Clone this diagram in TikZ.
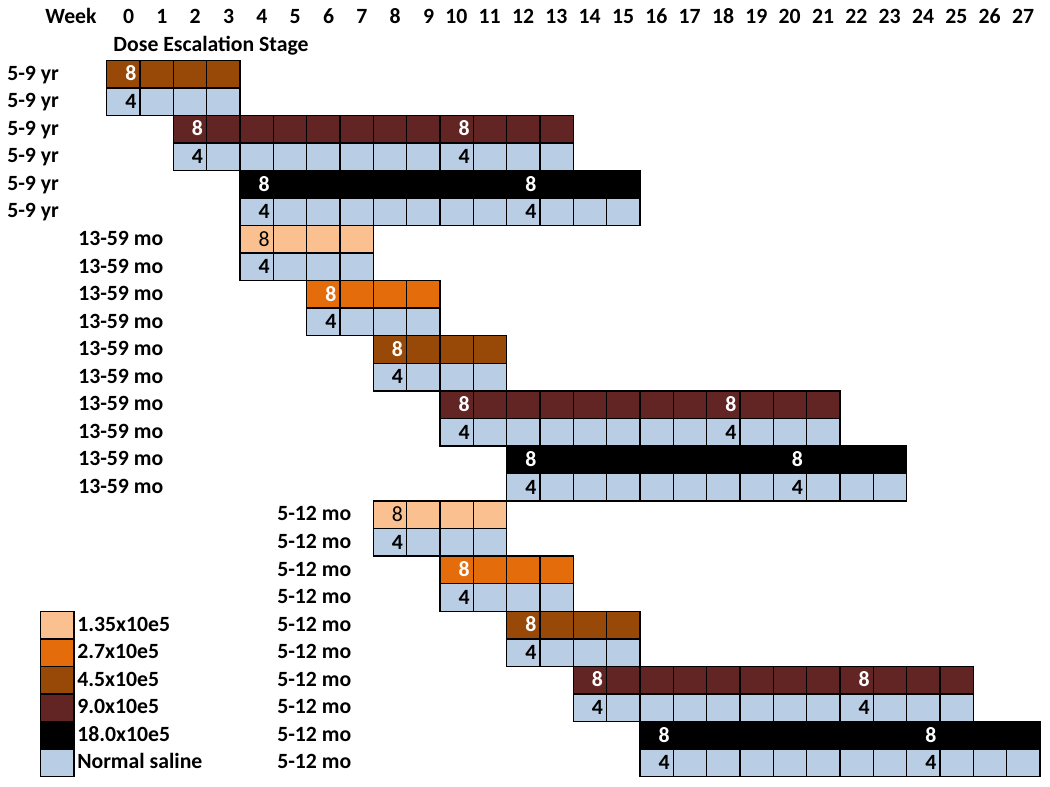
\documentclass[tikz,border=0pt]{standalone}
\usepackage{fontspec}
\setmainfont{Carlito}
\definecolor{dlight}{HTML}{FAC090}
\definecolor{dorange}{HTML}{E46C0A}
\definecolor{dbrown}{HTML}{984807}
\definecolor{dmaroon}{HTML}{632523}
\definecolor{dblack}{HTML}{000000}
\definecolor{saline}{HTML}{B9CDE5}
\newcommand\dosebar[7]{%
  \foreach \c in {#2,...,#3}{
    \node[cell,fill=#4] (r#1c\c) at ({106+33.333*\c},{59.5+27.55*(#1-1)}) {};
  }
  \foreach \m in {#7}{
    \node[#5] (t#1c\m) at ([xshift=-3.2pt]r#1c\m.east) {#6};
  }
}
\begin{document}
\begin{tikzpicture}[x=0.75pt,y=-0.75pt,
  cell/.style={draw=black, line width=1.1pt, minimum width=25pt, minimum height=20.66pt, inner sep=0pt, anchor=north west},
  lab/.style={inner sep=0pt, text height=10.3pt, text depth=0pt, font=\fontsize{16.3}{19}\selectfont\bfseries},
  wlab/.style={lab, anchor=east, text=white},
  klab/.style={lab, anchor=east, text=black},
  llab/.style={lab, anchor=east, text=black, font=\fontsize{16.3}{19}\selectfont\mdseries},
  rowlab/.style={lab, anchor=west},
  legbox/.style={draw=black, line width=1.1pt, minimum width=25pt, minimum height=20.66pt, inner sep=0pt, anchor=north west}]
\useasboundingbox (0,0) rectangle (1050,786);
% header
\node[lab] (week) at (71,16.5) {Week};
\foreach \c in {0,...,27}{
  \node[lab, anchor=east] (w\c) at ({106+33.333*(\c+1)-5},16.5) {\c};
}
\node[lab] (des) at (211,44.5) {Dose Escalation Stage};
% row labels
\foreach \r in {1,...,6}{\node[rowlab] (lab\r) at (7,{59.5+27.55*(\r-1)+13.8}) {5-9 yr};}
\foreach \r in {7,...,16}{\node[rowlab] (lab\r) at (78,{59.5+27.55*(\r-1)+13.8}) {13-59 mo};}
\foreach \r in {17,...,26}{\node[rowlab] (lab\r) at (277,{59.5+27.55*(\r-1)+13.8}) {5-12 mo};}
% 5-9 yr
\dosebar{1}{0}{3}{dbrown}{wlab}{8}{0}
\dosebar{2}{0}{3}{saline}{klab}{4}{0}
\dosebar{3}{2}{13}{dmaroon}{wlab}{8}{2,10}
\dosebar{4}{2}{13}{saline}{klab}{4}{2,10}
\dosebar{5}{4}{15}{dblack}{wlab}{8}{4,12}
\dosebar{6}{4}{15}{saline}{klab}{4}{4,12}
% 13-59 mo
\dosebar{7}{4}{7}{dlight}{llab}{8}{4}
\dosebar{8}{4}{7}{saline}{klab}{4}{4}
\dosebar{9}{6}{9}{dorange}{wlab}{8}{6}
\dosebar{10}{6}{9}{saline}{klab}{4}{6}
\dosebar{11}{8}{11}{dbrown}{wlab}{8}{8}
\dosebar{12}{8}{11}{saline}{klab}{4}{8}
\dosebar{13}{10}{21}{dmaroon}{wlab}{8}{10,18}
\dosebar{14}{10}{21}{saline}{klab}{4}{10,18}
\dosebar{15}{12}{23}{dblack}{wlab}{8}{12,20}
\dosebar{16}{12}{23}{saline}{klab}{4}{12,20}
% 5-12 mo
\dosebar{17}{8}{11}{dlight}{llab}{8}{8}
\dosebar{18}{8}{11}{saline}{klab}{4}{8}
\dosebar{19}{10}{13}{dorange}{wlab}{8}{10}
\dosebar{20}{10}{13}{saline}{klab}{4}{10}
\dosebar{21}{12}{15}{dbrown}{wlab}{8}{12}
\dosebar{22}{12}{15}{saline}{klab}{4}{12}
\dosebar{23}{14}{25}{dmaroon}{wlab}{8}{14,22}
\dosebar{24}{14}{25}{saline}{klab}{4}{14,22}
\dosebar{25}{16}{27}{dblack}{wlab}{8}{16,24}
\dosebar{26}{16}{27}{saline}{klab}{4}{16,24}
% legend
\foreach \i/\col/\txt in {1/dlight/1.35x10e5, 2/dorange/2.7x10e5, 3/dbrown/4.5x10e5, 4/dmaroon/9.0x10e5, 5/dblack/18.0x10e5, 6/saline/Normal saline}{
  \node[legbox, fill=\col] (leg\i) at (40,{59.5+27.55*(\i+19)}) {};
  \node[rowlab] (legt\i) at (77,{59.5+27.55*(\i+19)+13.8}) {\txt};
}
\end{tikzpicture}
\end{document}
